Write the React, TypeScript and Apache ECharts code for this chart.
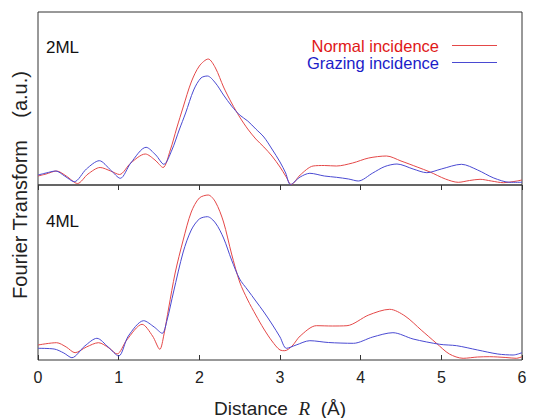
import React, { useEffect, useRef } from "react";
import * as echarts from "echarts";

// Distance R (Å), transform magnitude (a.u.)
const topNormal: [number, number][] = [
  [0, 9], [0.1, 11], [0.23, 14], [0.35, 9], [0.49, 1.5], [0.62, 11], [0.77, 17.5], [0.9, 14], [1.01, 10.5],
  [1.15, 22], [1.33, 31], [1.45, 25], [1.55, 17.5], [1.64, 35], [1.72, 57], [1.8, 78], [1.9, 103], [2.0, 119],
  [2.11, 126], [2.2, 117], [2.3, 98], [2.4, 82], [2.5, 68], [2.6, 56], [2.7, 46], [2.8, 38], [2.9, 29],
  [3.0, 18], [3.07, 9], [3.14, 0.5], [3.25, 10], [3.41, 19], [3.55, 19.5], [3.7, 19], [3.9, 22], [4.1, 27],
  [4.32, 29], [4.5, 24], [4.7, 18], [4.86, 13], [5.05, 6], [5.21, 2.7], [5.35, 4.5], [5.48, 5.7], [5.62, 4],
  [5.77, 2.3], [5.9, 3.5], [6, 5],
];
const topGrazing: [number, number][] = [
  [0, 10], [0.1, 12], [0.22, 14], [0.33, 9], [0.45, 3.3], [0.6, 16], [0.76, 24.3], [0.9, 15], [1.02, 6.7],
  [1.15, 22], [1.34, 37.7], [1.46, 30], [1.56, 20.7], [1.66, 35], [1.75, 55], [1.83, 72], [1.93, 95], [2.02, 107],
  [2.1, 109], [2.2, 102], [2.3, 90], [2.4, 79], [2.5, 70], [2.6, 64], [2.7, 56], [2.8, 48], [2.9, 36],
  [3.0, 23], [3.07, 12], [3.13, 0.5], [3.25, 8], [3.37, 11.7], [3.55, 9], [3.7, 7.7], [3.85, 6], [3.97, 4],
  [4.15, 12], [4.3, 18.5], [4.45, 21], [4.65, 16], [4.82, 12.3], [5.0, 16], [5.25, 20.7], [5.45, 15], [5.65, 7],
  [5.85, 2.7], [6, 2.7],
];
const bottomNormal: [number, number][] = [
  [0, 15], [0.23, 17.3], [0.35, 13], [0.46, 7.3], [0.6, 13], [0.75, 17.3], [0.88, 12], [0.98, 6], [1.1, 20],
  [1.29, 35.7], [1.42, 24], [1.51, 10.7], [1.56, 25], [1.62, 52], [1.7, 87], [1.8, 120], [1.9, 148], [2.0, 162],
  [2.11, 165], [2.2, 158], [2.3, 138], [2.4, 106], [2.5, 78], [2.6, 60], [2.7, 45], [2.8, 31], [2.9, 19],
  [3.0, 10], [3.06, 9.3], [3.15, 14], [3.25, 24], [3.45, 34.3], [3.65, 34], [3.83, 34.3], [4.1, 45], [4.36, 50.7],
  [4.55, 44], [4.75, 30], [4.94, 16.7], [5.1, 6], [5.27, 1.7], [5.45, 3], [5.6, 3.3], [5.8, 2.5], [5.93, 1.7],
  [6, 3.3],
];
const bottomGrazing: [number, number][] = [
  [0, 11.7], [0.2, 11], [0.32, 7], [0.42, 2.3], [0.58, 14], [0.73, 21.7], [0.87, 13], [1.0, 4], [1.12, 24],
  [1.31, 39.3], [1.44, 33], [1.54, 26.7], [1.6, 40], [1.68, 68], [1.8, 108], [1.9, 130], [2.0, 141],
  [2.1, 143.3], [2.2, 137], [2.3, 122], [2.4, 100], [2.5, 81], [2.6, 70], [2.7, 59], [2.8, 48], [2.9, 36],
  [3.0, 23], [3.08, 11.7], [3.2, 15], [3.37, 19.3], [3.6, 17.5], [3.91, 16.7], [4.15, 23], [4.4, 27.3],
  [4.65, 21], [4.98, 15.7], [5.19, 14.3], [5.45, 10], [5.7, 6], [5.89, 5], [6, 7.3],
];
const seriesNames = ["Normal incidence", "Grazing incidence"];
const panelLabels = ["2ML", "4ML"];

const RED = "#e44848";
const BLUE = "#4a4ad2";
const RED_TEXT = "#e01818";
const BLUE_TEXT = "#1c1cc8";
const FONT = "Liberation Sans, Arial, sans-serif";

export default function App() {
  const ref = useRef<HTMLDivElement>(null);
  useEffect(() => {
    if (!ref.current) return;
    const chart = echarts.init(ref.current, undefined, { renderer: "svg" });
    const line = (name: string, data: [number, number][], color: string, idx: number) => ({
      type: "line",
      name,
      data,
      xAxisIndex: idx,
      yAxisIndex: idx,
      smooth: 0.3,
      symbol: "none",
      clip: true,
      lineStyle: { color, width: 1 },
      itemStyle: { color },
    });
    const xCommon = {
      type: "value",
      min: 0,
      max: 6,
      interval: 1,
      splitLine: { show: false },
      axisLine: { show: false },
      axisTick: { show: true, inside: true, length: 5, lineStyle: { color: "#333" } },
    };
    chart.setOption({
      animation: false,
      textStyle: { fontFamily: FONT },
      grid: [
        { left: 38, right: 12, top: 12, height: 173, show: true, borderColor: "#333", borderWidth: 1, outerBoundsMode: "none", containLabel: false },
        { left: 38, right: 12, top: 185, height: 175, show: true, borderColor: "#333", borderWidth: 1, outerBoundsMode: "none", containLabel: false },
      ],
      xAxis: [
        { ...xCommon, gridIndex: 0, position: "top", axisLabel: { show: false } },
        {
          ...xCommon,
          gridIndex: 1,
          position: "bottom",
          axisLabel: { show: true, fontSize: 16, color: "#222", margin: 9, fontFamily: FONT },
          name: "Distance  {i|R}  (Å)",
          nameLocation: "middle",
          nameGap: 39,
          nameTextStyle: {
            fontSize: 19,
            color: "#222",
            fontFamily: FONT,
            rich: { i: { fontSize: 19, fontStyle: "italic", fontFamily: "Liberation Serif, serif", color: "#222" } },
          },
        },
      ],
      yAxis: [
        { type: "value", gridIndex: 0, min: 0, max: 173, show: false },
        { type: "value", gridIndex: 1, min: 0, max: 175, show: false },
      ],
      legend: {
        orient: "vertical",
        align: "right",
        right: 37,
        top: 37,
        padding: 0,
        icon: "rect",
        itemWidth: 45,
        itemHeight: 1,
        itemGap: 0,
        data: [
          { name: seriesNames[0], textStyle: { color: RED_TEXT } },
          { name: seriesNames[1], textStyle: { color: BLUE_TEXT } },
        ],
        textStyle: { fontSize: 16.5, fontFamily: FONT, lineHeight: 17, padding: [0, 8, 0, 0] },
      },
      graphic: [
        {
          type: "text",
          left: 46,
          top: 39,
          style: { text: panelLabels[0], fontSize: 17, fill: "#111", fontFamily: FONT },
        },
        {
          type: "text",
          left: 46,
          top: 213,
          style: { text: panelLabels[1], fontSize: 17, fill: "#111", fontFamily: FONT },
        },
        {
          type: "text",
          x: 20,
          y: 185,
          rotation: Math.PI / 2,
          style: {
            text: "Fourier Transform    (a.u.)",
            fontSize: 20,
            fill: "#222",
            fontFamily: FONT,
            textAlign: "center",
            textVerticalAlign: "middle",
          },
        },
      ],
      series: [
        line(seriesNames[0], topNormal, RED, 0),
        line(seriesNames[1], topGrazing, BLUE, 0),
        line(seriesNames[0], bottomNormal, RED, 1),
        line(seriesNames[1], bottomGrazing, BLUE, 1),
      ],
    });
    return () => chart.dispose();
  }, []);
  return <div ref={ref} style={{ width: 534, height: 418, position: "absolute", left: 0, top: 0 }} />;
}
